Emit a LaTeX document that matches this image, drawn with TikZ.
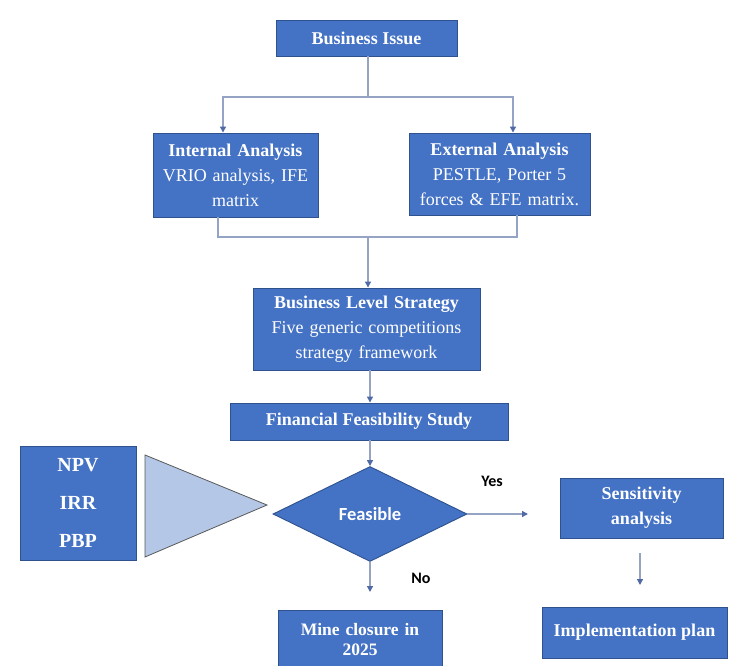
\documentclass[tikz,border=0pt]{standalone}
\usepackage{fontspec}
\setmainfont{Liberation Serif}
\newfontfamily\calib{Carlito}
\usetikzlibrary{arrows.meta,shapes.geometric,calc}
\definecolor{boxblue}{HTML}{4472C4}
\definecolor{boxedge}{HTML}{2F528F}
\definecolor{linec}{HTML}{95A3C4}
\definecolor{tipc}{HTML}{4F6AA6}
\definecolor{trifill}{HTML}{B4C7E7}
\tikzset{
  bluebox/.style={draw=boxedge, line width=0.9pt, fill=boxblue, text=white, align=center, inner sep=1pt, font=\fontsize{18}{25}\selectfont},
  conn/.style={draw=linec, line width=1.3pt},
  arr/.style={conn, -{Triangle[width=6pt,length=6pt,color=tipc]}},
  lab/.style={font=\calib\bfseries\fontsize{16}{17}\selectfont, text=black}
}
\begin{document}
\begin{tikzpicture}[x=1pt,y=-1pt]
\useasboundingbox (0,0) rectangle (729,666);
\clip (0,0) rectangle (729,666);
\fill[white] (0,0) rectangle (729,666);

\node[bluebox, minimum width=181, minimum height=36] (bi) at (366.5,38) {\textbf{Business Issue}};
\node[bluebox, minimum width=165, minimum height=84, text width=163] (int) at (235.5,175) {\textbf{Internal Analysis}\\VRIO analysis, IFE\\matrix};
\node[bluebox, minimum width=181, minimum height=82, text width=179] (ext) at (499.5,174) {\textbf{External Analysis}\\PESTLE, Porter 5\\forces \& EFE matrix.};
\node[bluebox, minimum width=227, minimum height=82, text width=225] (bls) at (366.5,329) {\textbf{Business Level Strategy}\\Five generic competitions\\strategy framework};
\node[bluebox, minimum width=278, minimum height=37] (fin) at (369,421.5) {\textbf{Financial Feasibility Study}};
\node[bluebox, minimum width=116, minimum height=114, text width=110, font=\bfseries\fontsize{20}{22}\selectfont] (npv) at (78,503) {NPV\\[16pt]IRR\\[16pt]PBP};
\draw[draw=gray!70!black, line width=0.8pt, fill=trifill] (145,455) -- (145,557) -- (267,505) -- cycle;
\node[diamond, draw=boxedge, line width=0.9pt, fill=boxblue, text=white, minimum width=194, minimum height=95, inner sep=0pt, font=\calib\bfseries\fontsize{18.5}{20}\selectfont] (fea) at (370,514) {Feasible};
\node[bluebox, minimum width=163, minimum height=60, text width=158] (sen) at (641.5,508) {\textbf{Sensitivity}\\\textbf{analysis}};
\node[bluebox, minimum width=164, minimum height=58, text width=160, anchor=north, font=\fontsize{17.5}{19.5}\selectfont] (mine) at (360,610) {\textbf{Mine closure in}\\\textbf{2025}};
\node[bluebox, minimum width=185, minimum height=51] (imp) at (634.5,632.5) {\textbf{Implementation plan}};

% top split
\coordinate (s1) at (368,97);
\draw[conn] (bi.south -| s1) -- (s1);
\draw[arr] (s1) -| ([xshift=-12.5]int.north);
\draw[arr] (s1) -| ([xshift=13.5]ext.north);
% merge
\coordinate (m1) at (368,237);
\draw[conn] ([xshift=-17.5]int.south) |- (m1);
\draw[conn] ([xshift=17.5]ext.south) |- (m1);
\draw[arr] (m1) -- (m1 |- bls.north);
\draw[arr] ([xshift=3.5]bls.south) -- ([xshift=3.5]bls.south |- fin.north);
\draw[arr] (fin.south -| fea.north) -- (fea.north);
% yes
\coordinate (yesend) at (528,514);
\draw[arr] (fea.east) -- (yesend);
\node[lab] (yes) at (492,481) {Yes};
% no
\coordinate (noend) at (370,592);
\draw[arr] (fea.south) -- (noend);
\node[lab] (no) at (421,578) {No};
% sensitivity to implementation
\coordinate (send) at (640,585);
\draw[arr] (sen.south -| send) ++(0,15) -- (send);
\end{tikzpicture}
\end{document}
